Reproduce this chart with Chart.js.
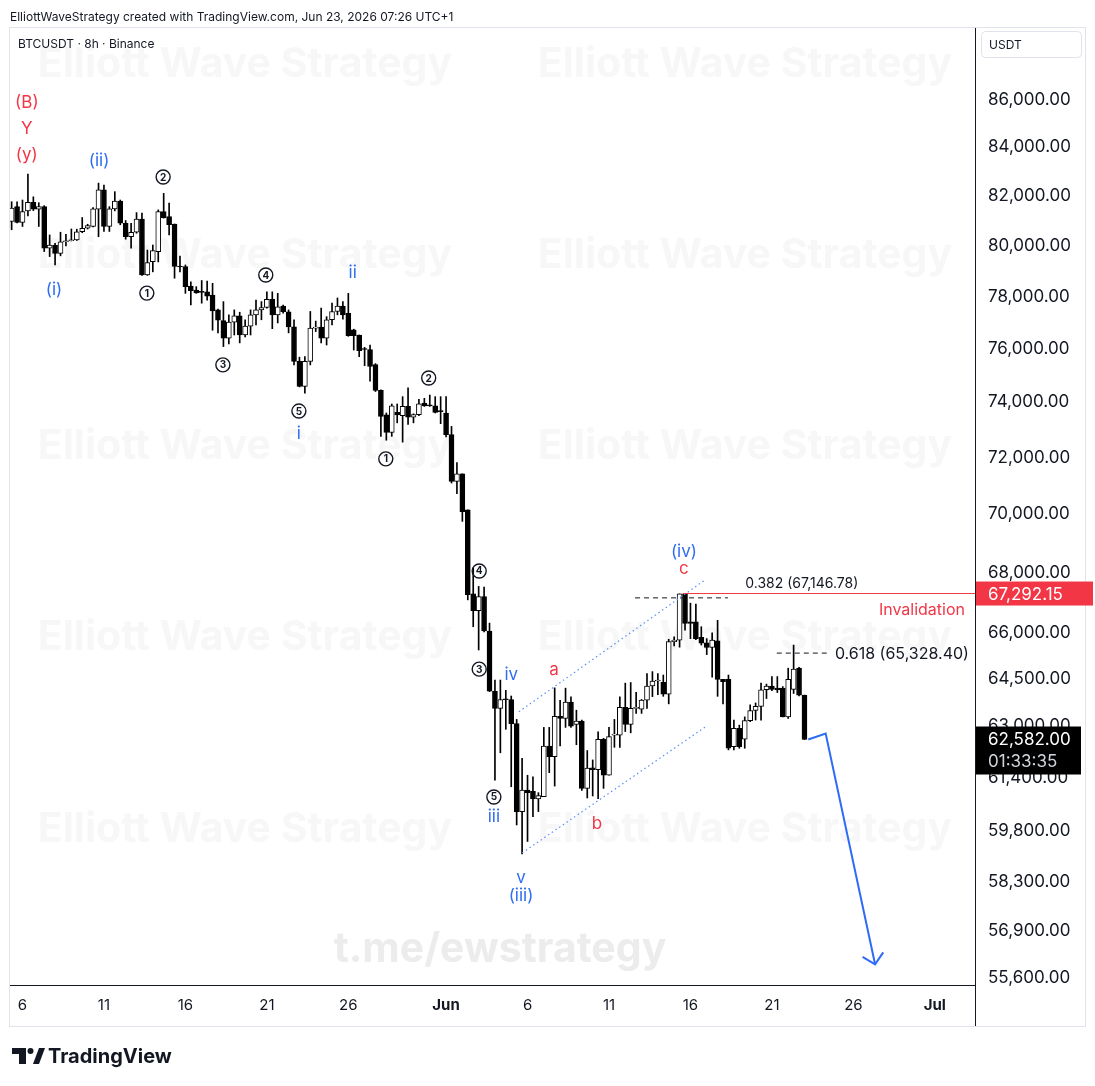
<!DOCTYPE html>
<html>
<head>
<meta charset="utf-8">
<script src="https://cdn.jsdelivr.net/npm/chart.js@4.4.1/dist/chart.umd.min.js"></script>
<style>
  html, body { margin: 0; padding: 0; background: #fff; }
  canvas { display: block; }
</style>
</head>
<body>
<canvas id="myChart" width="1095" height="1086"></canvas>
<script>
// 8h candles, index 0 = May 6 00:00
const firstCandle = -2;
const openP = [80960,81560,80920,81390,81740,81460,81560,79890,80020,79690,80150,80190,80220,80550,80690,80760,81460,82240,80760,81470,81790,80890,80350,80530,81060,78840,79360,79760,81360,81160,80860,79190,79170,78400,78250,78180,78180,78050,77480,77070,76400,77010,77250,76520,76860,77290,77480,77580,77890,77290,77630,77410,76830,75520,74590,75520,76780,76820,76400,77100,77420,77630,77350,76720,76520,75980,75970,75400,74440,73540,72900,73630,73510,73850,73460,73550,73970,73910,73870,73680,73610,72820,71150,71420,70150,67280,66720,67190,66050,64100,63560,63840,63840,63080,60380,61030,60990,60760,60830,62380,62050,63310,63240,63760,63050,63160,61080,61710,61650,62590,61480,62720,62720,63590,63050,63560,63530,63820,64270,64430,64390,64010,65700,65750,67280,66350,66350,65840,65660,65510,65730,64480,64480,62360,62930,62590,63170,63490,63620,64150,64270,64200,64200,63290,64160,64840,63980];
const highP = [81760,81760,81830,82890,81960,81720,81600,80420,80090,80530,80450,80660,80650,81120,80850,81520,82520,82440,81560,82170,81830,81000,80890,81320,81300,79820,80020,81430,82100,81700,80860,79580,79230,78570,78380,78620,78600,78510,77510,77800,77290,77480,77390,77100,77480,77860,77800,78180,78180,78120,77670,77480,77100,75680,75700,77420,77050,77550,77220,77740,77940,77800,78120,76740,76520,76050,76140,75440,74460,73610,73940,73940,74210,74540,73580,74110,74150,74270,74210,74210,74210,73120,71820,71420,70150,68150,67530,67510,66310,64460,64460,64130,63950,63210,62000,61480,61430,60950,62960,62960,64210,63810,64200,63920,63500,63190,62240,61950,62820,62620,62960,63210,63920,64360,64380,64070,63840,64670,64730,64670,64620,65780,65860,67280,67292.15,66970,66940,66190,65800,65990,66400,64480,64620,63190,63030,63290,63670,63730,64360,64330,64570,64570,64250,64840,65590,64870,63980];
const lowP = [80630,80900,80760,81190,81400,80760,79760,79560,79230,79590,79980,80180,80200,80510,80660,80740,80350,80560,80560,81390,80830,80250,79890,80490,78820,78820,78960,79350,81100,80420,78710,78960,78120,77670,78120,77740,77860,76700,76600,76080,76180,76520,76220,76450,76520,76900,77100,77550,76760,76980,77350,76600,75390,74570,74340,75390,76650,76220,76140,76900,77290,77120,76470,75950,75700,75360,74780,74400,72760,72620,72760,73250,72550,73190,73250,73510,73850,73850,73610,73220,72740,71090,70720,69750,67080,66190,65430,66020,64090,61330,62170,62900,61130,59980,59120,59490,60230,60380,60830,61560,61150,62380,62960,62960,62420,61020,60790,60850,60770,61080,61480,62340,62340,62830,62790,63400,63400,63560,63930,63990,63940,63700,65560,65520,66080,65800,65770,65590,65280,64550,63940,63700,62260,62260,62310,62310,63140,63190,63190,63870,64120,64060,63290,63240,64030,63950,62582];
const closeP = [81500,80920,81360,81740,81460,81560,79890,80020,79690,80150,80190,80230,80550,80690,80800,81470,82240,80760,81470,81790,80890,80350,80530,81060,78840,79320,79800,81360,81100,80830,79170,79150,78380,78220,78140,78160,78010,77440,77090,76400,77010,77250,76520,76860,77290,77480,77570,77890,77290,77600,77410,76830,75520,74590,75520,76780,76820,76400,77100,77420,77630,77290,76490,76490,75930,75970,75330,74440,73480,72900,73870,73540,73850,73460,73550,73950,73870,73870,73630,73660,72820,71150,71420,70090,67250,66720,67190,66050,64100,63560,63840,63830,63080,60380,61030,60950,60760,60860,62380,62050,63310,63240,63760,63000,63160,61080,61700,61650,62590,61480,62670,62740,63590,63050,63560,63590,63820,64270,64430,64440,64010,65700,65750,67280,66300,66300,65800,65650,65510,65750,64480,64410,62310,62930,62360,63170,63490,63620,64150,64270,64160,64140,63290,64480,64810,63980,62582];

const priceTicks = [55600,56900,58300,59800,61400,63000,64500,66000,68000,70000,72000,74000,76000,78000,80000,82000,84000,86000];
const dateTicks = [0,15,30,45,60,78,93,108,123,138,153,168];
const dateLabels = ['6','11','16','21','26','Jun','6','11','16','21','26','Jul'];
const monthTicks = [78,168];

const fib382 = 67146.78;
const fib618 = 65328.40;
const invalidation = 67292.15;
const lastPrice = 62582.00;
const countdown = '01:33:35';

const upperChannel = [{x:91.4,y:63450},{x:125.7,y:67750}];
const lowerChannel = [{x:92,y:59150},{x:125.7,y:62970}];
const projection = [{x:144.7,y:62582},{x:147.9,y:62770},{x:157.0,y:55965}];
const arrowHead = [{x:154.7,y:56170},{x:157.0,y:55965},{x:158.5,y:56300}];

const RED = '#f23645';
const BLUE = '#2f6df2';

const waveLabels = [
  {t:'(B)', x:0.8, y:85870, c:RED},
  {t:'Y', x:0.8, y:84770, c:RED},
  {t:'(y)', x:0.8, y:83680, c:RED},
  {t:'(ii)', x:14.1, y:83430, c:BLUE},
  {t:'(i)', x:5.8, y:78250, c:BLUE},
  {t:'ii', x:60.8, y:78910, c:BLUE},
  {t:'i', x:50.9, y:72840, c:BLUE},
  {t:'iv', x:90, y:64620, c:BLUE},
  {t:'a', x:97.9, y:64780, c:RED},
  {t:'iii', x:86.8, y:60210, c:BLUE},
  {t:'b', x:105.8, y:60000, c:RED},
  {t:'v', x:91.8, y:58420, c:BLUE},
  {t:'(iii)', x:91.8, y:57900, c:BLUE},
  {t:'(iv)', x:121.8, y:68700, c:BLUE},
  {t:'c', x:121.8, y:68120, c:RED}
];
const circledLabels = [
  {n:'2', x:25.9, y:82770}, {n:'1', x:22.9, y:78130}, {n:'4', x:44.8, y:78835},
  {n:'3', x:36.9, y:75390}, {n:'5', x:50.9, y:73680}, {n:'2', x:74.8, y:74900},
  {n:'1', x:66.9, y:71950}, {n:'4', x:84.1, y:68050}, {n:'3', x:84.1, y:64810},
  {n:'5', x:86.8, y:60820}
];

const FONT = "Inter, 'Noto Sans', sans-serif";
Chart.defaults.font.family = FONT;
Chart.defaults.color = '#131722';

const idx = openP.map((_, k) => k + firstCandle);
const isUp = openP.map((o, k) => closeP[k] >= o);
const bodies = idx.map((x, k) => ({x: x, y: [openP[k], closeP[k]]}));
const wicks = idx.map((x, k) => ({x: x, y: [lowP[k], highP[k]]}));

const fmt = v => v.toLocaleString('en-US', {minimumFractionDigits: 2, maximumFractionDigits: 2});

const decor = {
  id: 'decor',
  beforeDatasetsDraw(chart) {
    const ctx = chart.ctx;
    ctx.save();
    ctx.textAlign = 'center';
    ctx.textBaseline = 'middle';
    ctx.fillStyle = '#f7f7f8';
    ctx.font = 'bold 41px ' + FONT;
    for (const yy of [65, 256, 447, 638, 830]) {
      for (const xx of [245, 745]) ctx.fillText('Elliott Wave Strategy', xx, yy);
    }
    ctx.fillStyle = '#ececec';
    ctx.font = 'bold 41px ' + FONT;
    ctx.fillText('t.me/ewstrategy', 500, 950);
    ctx.restore();
  },
  afterDraw(chart) {
    const ctx = chart.ctx;
    const xs = chart.scales.x, ys = chart.scales.y;
    const area = chart.chartArea;
    ctx.save();

    // frame + header
    ctx.strokeStyle = '#e0e3eb';
    ctx.lineWidth = 1;
    ctx.strokeRect(9.5, 27.5, 1076, 999);
    ctx.strokeStyle = '#131722';
    ctx.beginPath();
    ctx.moveTo(Math.round(area.right) + 0.5, 28);
    ctx.lineTo(Math.round(area.right) + 0.5, 1026);
    ctx.stroke();

    ctx.fillStyle = '#131722';
    ctx.textAlign = 'left';
    ctx.textBaseline = 'middle';
    ctx.font = '12px ' + FONT;
    ctx.fillText('ElliottWaveStrategy created with TradingView.com, Jun 23, 2026 07:26 UTC+1', 10, 17);
    ctx.fillText('BTCUSDT \u00b7 8h \u00b7 Binance', 18, 44);

    // USDT box
    ctx.strokeStyle = '#e0e3eb';
    ctx.beginPath();
    ctx.roundRect(981.5, 31.5, 100, 26, 4);
    ctx.stroke();
    ctx.font = '12px ' + FONT;
    ctx.fillText('USDT', 989, 45);

    // wave labels
    ctx.textAlign = 'center';
    ctx.font = '17px ' + FONT;
    for (const l of waveLabels) {
      ctx.fillStyle = l.c;
      ctx.fillText(l.t, xs.getPixelForValue(l.x), ys.getPixelForValue(l.y));
    }
    ctx.font = 'bold 10px ' + FONT;
    ctx.lineWidth = 1.4;
    for (const l of circledLabels) {
      const px = xs.getPixelForValue(l.x), py = ys.getPixelForValue(l.y);
      ctx.strokeStyle = '#131722';
      ctx.beginPath();
      ctx.arc(px, py, 7, 0, Math.PI * 2);
      ctx.stroke();
      ctx.fillStyle = '#131722';
      ctx.fillText(l.n, px, py + 0.5);
    }

    // fib texts
    ctx.font = '14px ' + FONT;
    ctx.fillStyle = '#131722';
    ctx.fillText('0.382 (' + fmt(fib382) + ')', xs.getPixelForValue(143.5), ys.getPixelForValue(fib382) - 14);
    ctx.textAlign = 'left';
    ctx.font = '16px ' + FONT;
    ctx.fillText('0.618 (' + fmt(fib618) + ')', xs.getPixelForValue(149.6), ys.getPixelForValue(fib618) + 1);
    ctx.textAlign = 'right';
    ctx.fillStyle = RED;
    ctx.font = '16px ' + FONT;
    ctx.fillText('Invalidation', area.right - 10, ys.getPixelForValue(invalidation) + 17);

    // price boxes
    ctx.textAlign = 'left';
    ctx.font = '17px ' + FONT;
    let py = ys.getPixelForValue(invalidation);
    ctx.fillStyle = RED;
    ctx.fillRect(area.right + 1, py - 12, 117, 24);
    ctx.fillStyle = '#fff';
    ctx.fillText(fmt(invalidation), 988, py + 1);
    py = ys.getPixelForValue(lastPrice);
    ctx.fillStyle = '#000';
    ctx.fillRect(area.right + 1, py - 13, 105, 48);
    ctx.fillStyle = '#fff';
    ctx.fillText(fmt(lastPrice), 988, py);
    ctx.fillStyle = '#d1d4dc';
    ctx.fillText(countdown, 988, py + 22);

    // TradingView logo
    ctx.fillStyle = '#131722';
    ctx.fillRect(12, 1048, 14, 6);
    ctx.fillRect(19, 1048, 7, 16);
    ctx.beginPath();
    ctx.arc(30.5, 1051, 3, 0, Math.PI * 2);
    ctx.fill();
    ctx.beginPath();
    ctx.moveTo(33, 1064); ctx.lineTo(39, 1048); ctx.lineTo(45, 1048); ctx.lineTo(39, 1064);
    ctx.closePath();
    ctx.fill();
    ctx.font = 'bold 20px ' + FONT;
    ctx.textAlign = 'left';
    ctx.fillText('TradingView', 48, 1057);
    ctx.restore();
  }
};

const config = {
  type: 'bar',
  data: {
    datasets: [
      {
        // badan candle
        data: bodies,
        backgroundColor: isUp.map(u => u ? '#ffffff' : '#000000'),
        borderColor: '#000000',
        borderWidth: 1,
        borderSkipped: false,
        barThickness: 5,
        minBarLength: 1,
        grouped: false,
        order: 1
      },
      {
        // sumbu candle
        data: wicks,
        backgroundColor: '#000000',
        barThickness: 1,
        grouped: false,
        order: 2
      },
      {
        type: 'line', data: upperChannel, borderColor: '#5b8ef5', borderWidth: 1.2,
        borderDash: [1.5, 3], pointRadius: 0, order: 0
      },
      {
        type: 'line', data: lowerChannel, borderColor: '#5b8ef5', borderWidth: 1.2,
        borderDash: [1.5, 3], pointRadius: 0, order: 0
      },
      {
        type: 'line', data: [{x:112.8, y:fib382}, {x:129.9, y:fib382}], borderColor: '#131722',
        borderWidth: 1, borderDash: [5, 4], pointRadius: 0, order: 0
      },
      {
        type: 'line', data: [{x:138.9, y:fib618}, {x:148.3, y:fib618}], borderColor: '#131722',
        borderWidth: 1, borderDash: [5, 4], pointRadius: 0, order: 0
      },
      {
        type: 'line', data: [{x:121.6, y:invalidation}, {x:175.4, y:invalidation}], borderColor: RED,
        borderWidth: 1, pointRadius: 0, order: 0
      },
      {
        type: 'line', data: projection, borderColor: '#2e6cf6', borderWidth: 2,
        pointRadius: 0, order: -1
      },
      {
        type: 'line', data: arrowHead, borderColor: '#2e6cf6', borderWidth: 2,
        pointRadius: 0, order: -1
      }
    ]
  },
  options: {
    responsive: false,
    animation: false,
    devicePixelRatio: 1,
    layout: { padding: { left: 10, top: 28, right: 10, bottom: 60 } },
    plugins: { legend: { display: false }, tooltip: { enabled: false } },
    scales: {
      x: {
        type: 'linear',
        min: -2.3,
        max: 175.4,
        offset: false,
        grid: { display: false, drawTicks: false },
        border: { display: true, color: '#131722', width: 1 },
        afterFit: s => { s.height = 41; },
        afterBuildTicks: s => { s.ticks = dateTicks.map(v => ({value: v})); },
        ticks: {
          autoSkip: false,
          maxRotation: 0,
          padding: 11,
          color: '#131722',
          font: c => ({ size: 15, weight: (c.tick && monthTicks.includes(c.tick.value)) ? 'bold' : 'normal' }),
          callback: v => { const k = dateTicks.indexOf(v); return k >= 0 ? dateLabels[k] : ''; }
        }
      },
      y: {
        type: 'logarithmic',
        position: 'right',
        min: 55393,
        max: 89134,
        grid: { display: false, drawTicks: false },
        border: { display: true, color: '#131722', width: 1 },
        afterFit: s => { s.width = 110; },
        afterBuildTicks: s => { s.ticks = priceTicks.map(v => ({value: v})); },
        ticks: {
          autoSkip: false,
          padding: 13,
          color: '#131722',
          font: { size: 17 },
          callback: v => fmt(v)
        }
      }
    }
  },
  plugins: [decor]
};

const myChart = new Chart(document.getElementById('myChart'), config);
</script>
</body>
</html>
